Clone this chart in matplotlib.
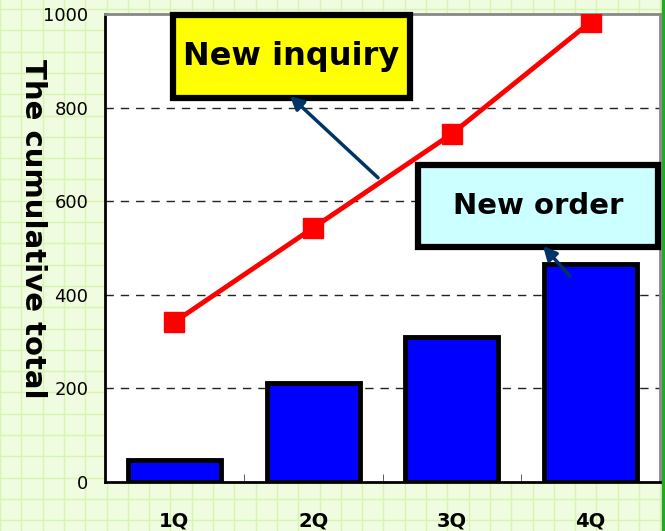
import numpy as np
import matplotlib.pyplot as plt
from matplotlib.patches import Rectangle

quarters = ['1Q', '2Q', '3Q', '4Q']
new_order = [48, 211, 310, 466]
new_inquiry = [342, 543, 744, 983]
y_ticks = [0, 200, 400, 600, 800, 1000]

fig = plt.figure(figsize=(6.65, 5.31), dpi=100)
fig.patch.set_facecolor('#F0FCE0')

# graph-paper background
bg = fig.add_axes([0, 0, 1, 1], zorder=0)
bg.set_xlim(0, 665)
bg.set_ylim(531, 0)
for gx in np.arange(0, 665, 21.3):
    bg.axvline(gx, color='#D6F5B0', lw=1)
for gy in np.arange(9, 531, 21.3):
    bg.axhline(gy, color='#D6F5B0', lw=1)
bg.axvline(663, color='#22AA22', lw=2.5)
bg.axis('off')

ax = fig.add_axes([105 / 665, 1 - 482 / 531, 555 / 665, 468 / 531], zorder=1)
ax.set_facecolor('white')
x = np.arange(len(quarters))
ax.bar(x, new_order, width=0.67, color='#0000FF', edgecolor='black', linewidth=3.5, zorder=2)
ax.plot(x, new_inquiry, color='#FF0000', lw=3.5, marker='s', markersize=15, zorder=3)

ax.set_xlim(-0.5, 3.5)
ax.set_ylim(0, 1000)
ax.set_yticks(y_ticks)
ax.set_yticklabels([str(v) for v in y_ticks], fontsize=13)
ax.tick_params(axis='y', length=0, pad=12)
ax.set_xticks(x)
ax.set_xticklabels(quarters, fontsize=14, fontweight='bold')
ax.tick_params(axis='x', length=0, pad=21)
ax.set_xticks([0.5, 1.5, 2.5], minor=True)
ax.tick_params(axis='x', which='minor', direction='in', length=6, color='#444444')
for yv in y_ticks[1:-1]:
    ax.axhline(yv, color='#222222', lw=1, ls=(0, (6, 5)), zorder=1)

for s in ['left', 'bottom']:
    ax.spines[s].set_color('black')
    ax.spines[s].set_linewidth(2)
for s in ['top', 'right']:
    ax.spines[s].set_color('#888888')
    ax.spines[s].set_linewidth(2)

ax.set_ylabel('The cumulative total', rotation=270, fontsize=21, fontweight='bold',
              va='center')
ax.yaxis.set_label_coords(-0.13, 0.54)

# callout boxes
ax.add_patch(Rectangle((0.1225, 0.8205), 0.427, 0.1775, transform=ax.transAxes,
                       fc='#FFFF00', ec='black', lw=4.5, zorder=4, clip_on=False))
ax.text(0.336, 0.909, 'New inquiry', transform=ax.transAxes, fontsize=23,
        fontweight='bold', ha='center', va='center', zorder=5)
ax.add_patch(Rectangle((0.564, 0.502), 0.432, 0.175, transform=ax.transAxes,
                       fc='#CCFFFF', ec='black', lw=4.5, zorder=4, clip_on=False))
ax.text(0.78, 0.59, 'New order', transform=ax.transAxes, fontsize=21,
        fontweight='bold', ha='center', va='center', zorder=5)

arrow = dict(arrowstyle='-|>', color='#003366', lw=2.5, mutation_scale=20,
             shrinkA=0, shrinkB=0)
ax.annotate('', xy=(0.833, 825), xytext=(1.468, 650), arrowprops=arrow, zorder=4)
ax.annotate('', xy=(2.657, 504), xytext=(2.851, 440), arrowprops=arrow, zorder=4)

fig.savefig('out.png', dpi=100, facecolor=fig.get_facecolor())
